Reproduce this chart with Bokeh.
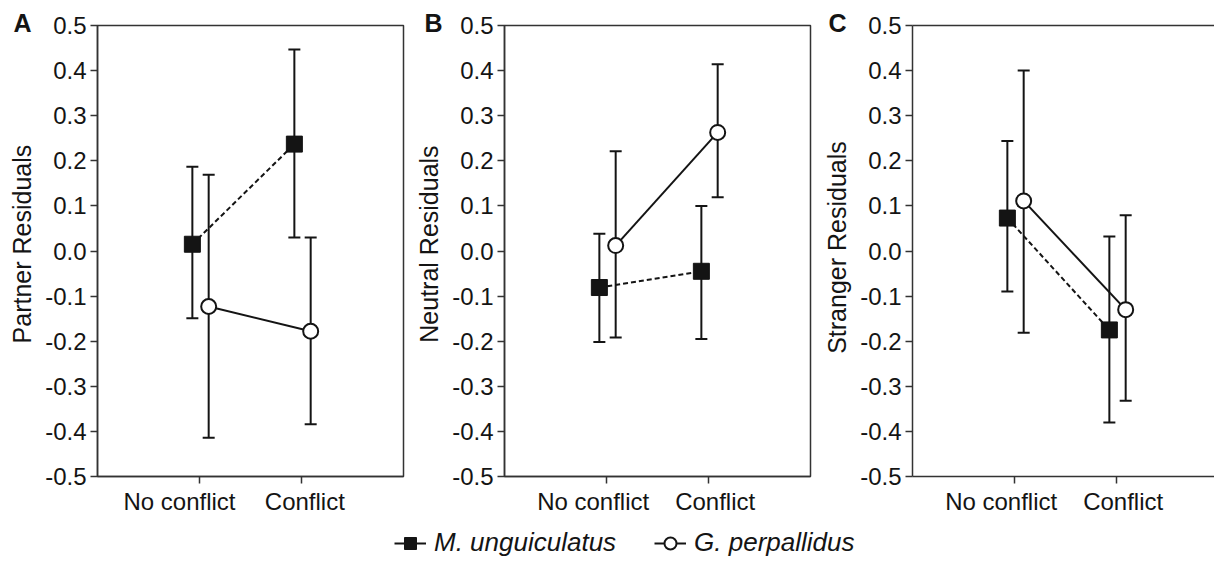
import numpy as np
from bokeh.plotting import figure
from bokeh.layouts import row, column
from bokeh.models import (ColumnDataSource, FixedTicker, Whisker, TeeHead,
                          Legend, LegendItem, LinearAxis, NumeralTickFormatter, Range1d)
from bokeh.transform import dodge
from bokeh.embed import file_html
from bokeh.resources import INLINE

# ---------------- data ----------------
conditions = ["No conflict", "Conflict"]
cond_pos = [1, 2]
species = ["M. unguiculatus", "G. perpallidus"]
panel_letters = ["A", "B", "C"]
y_titles = ["Partner Residuals", "Neutral Residuals", "Stranger Residuals"]
y_ticks = [-0.5, -0.4, -0.3, -0.2, -0.1, 0.0, 0.1, 0.2, 0.3, 0.4, 0.5]

# Panel A (Partner)
mu_mean_A = [0.015, 0.237]
mu_up_A = [0.187, 0.447]
mu_lo_A = [-0.149, 0.030]
gp_mean_A = [-0.123, -0.178]
gp_up_A = [0.169, 0.030]
gp_lo_A = [-0.414, -0.384]

# Panel B (Neutral)
mu_mean_B = [-0.081, -0.045]
mu_up_B = [0.038, 0.100]
mu_lo_B = [-0.202, -0.195]
gp_mean_B = [0.012, 0.263]
gp_up_B = [0.221, 0.414]
gp_lo_B = [-0.192, 0.119]

# Panel C (Stranger)
mu_mean_C = [0.073, -0.175]
mu_up_C = [0.244, 0.032]
mu_lo_C = [-0.090, -0.380]
gp_mean_C = [0.111, -0.130]
gp_up_C = [0.400, 0.079]
gp_lo_C = [-0.181, -0.332]

INK = "#141414"
FONT = "Liberation Sans"
MU_OFF = -0.07
GP_OFF = 0.09
NB = "\u00a0"


def make_panel(letter, ytitle, mu, gp, left, right, fw, x_end, full_outline,
               letter_offset, nb_nc, nb_c, nb_y):
    p = figure(frame_width=fw, frame_height=451,
               x_range=Range1d(0, x_end), y_range=Range1d(-0.5, 0.5),
               output_backend="svg", toolbar_location=None,
               min_border_left=left, min_border_right=right,
               min_border_top=25, min_border_bottom=44)
    p.grid.visible = False
    p.background_fill_color = "white"
    p.border_fill_color = "white"

    # panel letter
    p.title.text = letter
    p.title.align = "left"
    p.title.offset = letter_offset
    p.title.standoff = -22
    p.title.text_font = FONT
    p.title.text_font_style = "bold"
    p.title.text_font_size = "25px"
    p.title.text_color = INK

    xax = p.below[0]
    yax = p.left[0]
    yax.ticker = FixedTicker(ticks=y_ticks)
    yax.formatter = NumeralTickFormatter(format="0.0")
    yax.axis_label = NB * nb_y + ytitle
    xax.ticker = FixedTicker(ticks=cond_pos)
    tick_text = [conditions[0] + NB * nb_nc, NB * nb_c + conditions[1]]
    xax.major_label_overrides = {k: v for k, v in zip(cond_pos, tick_text)}
    for ax in (xax, yax):
        ax.axis_line_color = "#333333"
        ax.axis_line_width = 1.5
        ax.major_tick_line_color = "#333333"
        ax.major_tick_line_width = 1.5
        ax.major_tick_out = 7
        ax.major_tick_in = 0
        ax.minor_tick_out = 0
        ax.minor_tick_in = 0
        ax.major_label_text_font = FONT
        ax.major_label_text_font_size = "24px"
        ax.major_label_text_color = INK
        ax.major_label_standoff = 4
        ax.axis_label_text_font = FONT
        ax.axis_label_text_font_size = "25px"
        ax.axis_label_text_font_style = "normal"
        ax.axis_label_text_color = INK
    yax.axis_label_standoff = 6

    if full_outline:
        p.outline_line_color = "#333333"
        p.outline_line_width = 1.5
        p.outline_line_alpha = 1
    else:
        p.outline_line_color = None
        top = LinearAxis(ticker=FixedTicker(ticks=[]), axis_line_color="#333333",
                         axis_line_width=1.5, major_tick_out=0, major_tick_in=0,
                         minor_tick_out=0, minor_tick_in=0,
                         major_label_text_font_size="0px", major_label_standoff=0)
        p.add_layout(top, "above")

    src_mu = ColumnDataSource(dict(x=cond_pos, mean=mu[0], upper=mu[1], lower=mu[2]))
    src_gp = ColumnDataSource(dict(x=cond_pos, mean=gp[0], upper=gp[1], lower=gp[2]))

    xmu = dodge("x", MU_OFF, range=p.x_range)
    xgp = dodge("x", GP_OFF, range=p.x_range)

    p.line(x=xmu, y="mean", source=src_mu, line_color=INK, line_width=2, line_dash="5 3")
    p.line(x=xgp, y="mean", source=src_gp, line_color=INK, line_width=2)

    for src, xx in ((src_mu, xmu), (src_gp, xgp)):
        w = Whisker(source=src, base=xx, upper="upper", lower="lower",
                    line_color=INK, line_width=2,
                    upper_head=TeeHead(size=12, line_color=INK, line_width=2),
                    lower_head=TeeHead(size=12, line_color=INK, line_width=2))
        p.add_layout(w)

    p.scatter(x=xgp, y="mean", source=src_gp, marker="circle", size=15,
              fill_color="white", line_color=INK, line_width=2)
    p.scatter(x=xmu, y="mean", source=src_mu, marker="square", size=16,
              fill_color=INK, line_color=INK)
    return p


pa = make_panel(panel_letters[0], y_titles[0],
                (mu_mean_A, mu_up_A, mu_lo_A), (gp_mean_A, gp_up_A, gp_lo_A),
                97, 3, 306, 3.0, True, -84, 6, 1, 2)
pb = make_panel(panel_letters[1], y_titles[1],
                (mu_mean_B, mu_up_B, mu_lo_B), (gp_mean_B, gp_up_B, gp_lo_B),
                98, 2, 306, 3.0, True, -80, 4, 2, 2)
pc = make_panel(panel_letters[2], y_titles[2],
                (mu_mean_C, mu_up_C, mu_lo_C), (gp_mean_C, gp_up_C, gp_lo_C),
                100, 0, 302, 302 / 102.0, False, -84, 4, 2, 1)

# ---------------- legend strip ----------------
lf = figure(width=1214, height=50, x_range=Range1d(0, 1), y_range=Range1d(0, 1),
            output_backend="svg", toolbar_location=None,
            min_border_left=0, min_border_right=0, min_border_top=0, min_border_bottom=0)
lf.axis.visible = False
lf.grid.visible = False
lf.outline_line_color = None
# sources hold no drawable point (NaN): they only feed the legend glyphs
key_mu = ColumnDataSource(dict(x=[np.nan], y=[np.nan]))
key_gp = ColumnDataSource(dict(x=[np.nan], y=[np.nan]))
l1 = lf.line("x", "y", source=key_mu, line_color=INK, line_width=2)
s1 = lf.scatter("x", "y", source=key_mu, marker="square", fill_color=INK, line_color=INK)
l2 = lf.line("x", "y", source=key_gp, line_color=INK, line_width=2)
s2 = lf.scatter("x", "y", source=key_gp, marker="circle", fill_color="white",
                line_color=INK, line_width=2)
legend = Legend(items=[LegendItem(label=species[0], renderers=[l1, s1]),
                       LegendItem(label=species[1], renderers=[l2, s2])],
                orientation="horizontal", location=(394, 12),
                glyph_width=32, glyph_height=30, label_standoff=8, spacing=38,
                padding=0, margin=0, border_line_color=None, background_fill_alpha=0,
                label_text_font=FONT, label_text_font_style="italic",
                label_text_font_size="26px", label_text_color=INK)
lf.add_layout(legend)

layout = column(row(pa, pb, pc, spacing=0), lf, spacing=0)

with open("out.html", "w") as f:
    f.write(file_html(layout, INLINE))
